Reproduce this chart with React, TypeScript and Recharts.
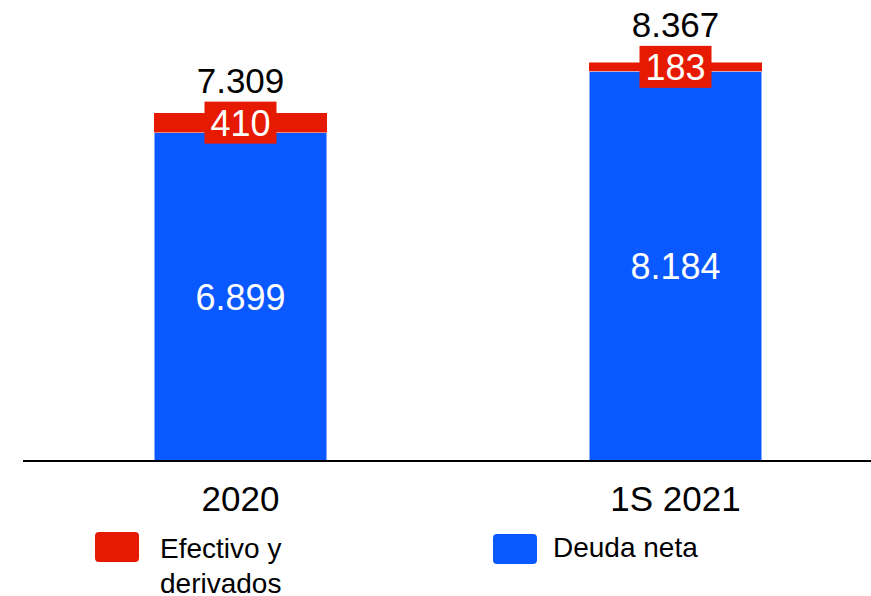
import React from 'react';
import { BarChart, Bar, XAxis, YAxis, LabelList } from 'recharts';

const periods = ['2020', '1S 2021'];
const deudaNeta = [6899, 8184];
const efectivo = [410, 183];
const seriesNames = ['Efectivo y derivados', 'Deuda neta'];

const RED = '#E61A00';
const BLUE = '#0A58FF';
const FONT = '"Liberation Sans", Arial, sans-serif';

const data = periods.map((p, i) => ({
    period: p,
    deuda: deudaNeta[i],
    efectivo: efectivo[i],
    total: deudaNeta[i] + efectivo[i],
}));

// 7309 -> "7.309"
const fmt = (v: number) => String(v).replace(/\B(?=(\d{3})+(?!\d))/g, '.');

const RedLabel = (props: any) => {
    const { x, y, width, height, index } = props;
    const cx = x + width / 2;
    const cy = y + height / 2;
    const row = data[index];
    return (
        <g>
            <rect x={cx - 36} y={cy - 21} width={72} height={42} fill={RED} />
            <text x={cx} y={cy + 13} textAnchor="middle" fill="#fff" fontSize={36} fontFamily={FONT}>
                {fmt(row.efectivo)}
            </text>
            <text x={cx} y={cy - 30} textAnchor="middle" fill="#000" fontSize={35} fontFamily={FONT}>
                {fmt(row.total)}
            </text>
        </g>
    );
};

const BlueLabel = (props: any) => {
    const { x, y, width, height, value } = props;
    return (
        <text x={x + width / 2} y={y + height / 2 + 13} textAnchor="middle" fill="#fff" fontSize={36} fontFamily={FONT}>
            {fmt(value)}
        </text>
    );
};

const PeriodTick = ({ x, y, payload }: any) => (
    <text x={x} y={y + 48} textAnchor="middle" fill="#000" fontSize={35} fontFamily={FONT}>
        {payload.value}
    </text>
);

export default function App() {
    return (
        <div style={{ position: 'relative', width: 871, height: 596, overflow: 'hidden', fontFamily: FONT }}>
            <style>{'html,body{margin:0;overflow:hidden}'}</style>
            <BarChart
                width={871}
                height={596}
                data={data}
                margin={{ top: 28, right: 0, left: 23, bottom: 75 }}
                barSize={173}
            >
                <XAxis
                    dataKey="period"
                    axisLine={{ stroke: '#000', strokeWidth: 2 }}
                    tickLine={false}
                    tickSize={0}
                    height={60}
                    padding={{ left: 0, right: -22 }}
                    tick={<PeriodTick />}
                    interval={0}
                />
                <YAxis hide domain={[0, 9091]} allowDataOverflow />
                <Bar dataKey="deuda" stackId="a" fill={BLUE} stroke="#fff" strokeWidth={1} isAnimationActive={false}>
                    <LabelList dataKey="deuda" content={<BlueLabel />} />
                </Bar>
                <Bar dataKey="efectivo" stackId="a" fill={RED} isAnimationActive={false}>
                    <LabelList dataKey="efectivo" content={<RedLabel />} />
                </Bar>
            </BarChart>
            <div style={{ position: 'absolute', left: 95, top: 532, width: 44, height: 30, background: RED, borderRadius: 4 }} />
            <div style={{ position: 'absolute', left: 160, top: 531, fontSize: 28, lineHeight: '35px', color: '#000' }}>
                Efectivo y<br />derivados
            </div>
            <div style={{ position: 'absolute', left: 493, top: 534, width: 44, height: 30, background: BLUE, borderRadius: 4 }} />
            <div style={{ position: 'absolute', left: 553, top: 530, fontSize: 28, lineHeight: '35px', color: '#000' }}>
                {seriesNames[1]}
            </div>
        </div>
    );
}
